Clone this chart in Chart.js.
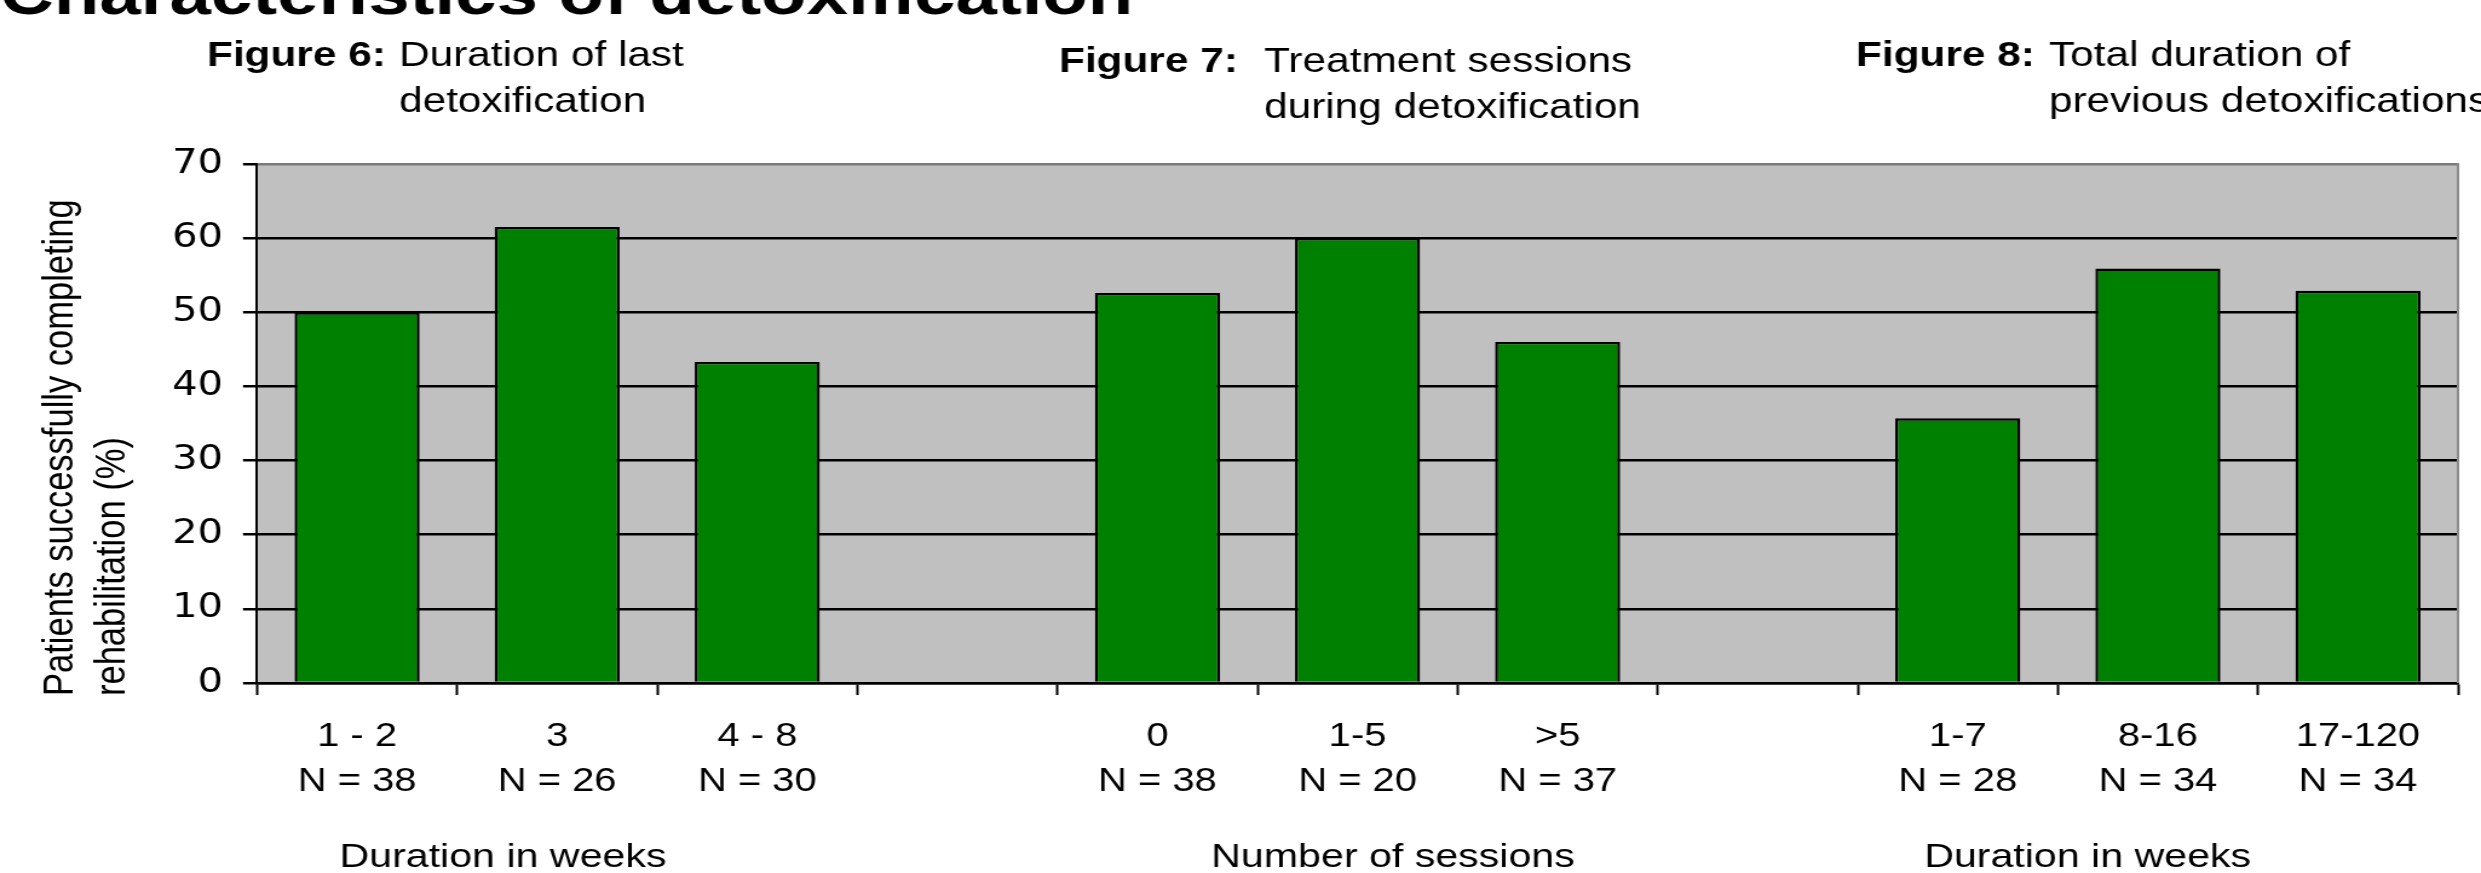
<!DOCTYPE html>
<html>
<head>
<meta charset="utf-8">
<script src="https://cdn.jsdelivr.net/npm/chart.js@4/dist/chart.umd.min.js"></script>
<style>
  html, body { margin: 0; padding: 0; background: #ffffff; overflow: hidden; }
  /* the slide artwork is laid out narrow and widened horizontally */
  #stage { width: 2050px; height: 873px; position: relative; transform: scaleX(1.21024); transform-origin: 0 0; }
</style>
</head>
<body>
<div id="stage"><canvas id="chart"></canvas></div>
<script>
// Figure 6: duration of last detoxification (weeks)
const fig6Categories = ['1 - 2', '3', '4 - 8'];
const fig6N = [38, 26, 30];
const fig6Values = [50.0, 61.5, 43.3];

// Figure 7: treatment sessions during detoxification
const fig7Categories = ['0', '1-5', '>5'];
const fig7N = [38, 20, 37];
const fig7Values = [52.6, 60.0, 46.0];

// Figure 8: total duration of previous detoxifications (weeks)
const fig8Categories = ['1-7', '8-16', '17-120'];
const fig8N = [28, 34, 34];
const fig8Values = [35.7, 55.9, 52.9];

const yTickValues = [0, 10, 20, 30, 40, 50, 60, 70];
const groupTitles = ['Duration in weeks', 'Number of sessions', 'Duration in weeks'];

// One shared category axis; an empty slot separates the three figures
const groups = [
  [fig6Categories, fig6N, fig6Values],
  [fig7Categories, fig7N, fig7Values],
  [fig8Categories, fig8N, fig8Values]
];
const labels = [];
const values = [];
groups.forEach(([cats, ns, vals], g) => {
  if (g > 0) { labels.push(''); values.push(null); }
  cats.forEach((c, i) => { labels.push([c, 'N = ' + ns[i]]); values.push(vals[i]); });
});

const SANS = '"Liberation Sans", Arial, Helvetica, sans-serif';

function say(ctx, str, x, y, font, align) {
  ctx.font = font;
  ctx.textAlign = align || 'left';
  ctx.textBaseline = 'alphabetic';
  ctx.fillStyle = '#000000';
  ctx.fillText(str, x, y);
}

const decorations = {
  id: 'decorations',
  beforeDraw(chart) {
    const { ctx, chartArea: a } = chart;
    ctx.save();
    ctx.fillStyle = '#c0c0c0';
    ctx.fillRect(a.left, a.top, a.right - a.left, a.bottom - a.top);
    ctx.restore();
  },
  afterDraw(chart) {
    const { ctx, chartArea: a } = chart;
    ctx.save();
    // right frame edge of the plot
    ctx.strokeStyle = '#8a8a8a';
    ctx.lineWidth = 2;
    ctx.beginPath();
    ctx.moveTo(a.right, a.top - 1);
    ctx.lineTo(a.right, a.bottom);
    ctx.stroke();

    // page heading
    say(ctx, 'Characteristics of detoxification', 0, 14, 'bold 61.5px ' + SANS);

    // figure captions
    const bold = 'bold 35px ' + SANS;
    const reg = '35px ' + SANS;
    say(ctx, 'Figure 6:', 171, 66, bold);
    say(ctx, 'Duration of last', 329.7, 66, reg);
    say(ctx, 'detoxification', 329.7, 112, reg);

    say(ctx, 'Figure 7:', 875, 72, bold);
    say(ctx, 'Treatment sessions', 1044.5, 72, reg);
    say(ctx, 'during detoxification', 1044.5, 118, reg);

    say(ctx, 'Figure 8:', 1533.6, 66, bold);
    say(ctx, 'Total duration of', 1693, 66, reg);
    say(ctx, 'previous detoxifications', 1693, 112, reg);

    // vertical axis title, two lines reading upwards
    ctx.save();
    ctx.translate(59.5, 696);
    ctx.rotate(-Math.PI / 2);
    say(ctx, 'Patients successfully completing', 0, 0, '34.5px ' + SANS);
    say(ctx, 'rehabilitation (%)', 0, 43.8, '34.5px ' + SANS);
    ctx.restore();

    // one axis title under each figure
    const titleX = [415.6, 1151, 1725];
    groupTitles.forEach((t, i) => say(ctx, t, titleX[i], 867, '34px ' + SANS, 'center'));
    ctx.restore();
  }
};

new Chart(document.getElementById('chart'), {
  type: 'bar',
  data: {
    labels: labels,
    datasets: [{
      data: values,
      backgroundColor: '#008000',
      borderColor: '#000000',
      borderWidth: 2.4,
      barPercentage: 0.625,
      categoryPercentage: 1.0
    }]
  },
  options: {
    responsive: true,
    maintainAspectRatio: false,
    animation: false,
    layout: { padding: { top: 164, right: 19, bottom: 0, left: 0 } },
    plugins: { legend: { display: false }, tooltip: { enabled: false } },
    scales: {
      x: {
        offset: true,
        grid: {
          display: true, drawOnChartArea: false, drawTicks: true, offset: true,
          tickLength: 12, tickColor: '#000000', tickWidth: 2, color: '#000000'
        },
        border: { display: true, color: '#000000', width: 2.5 },
        ticks: {
          color: '#000000', autoSkip: false, maxRotation: 0, padding: 19,
          font: { family: SANS, size: 33, lineHeight: 1.364 }
        },
        afterFit(scale) { scale.height = 190; }
      },
      y: {
        min: 0, max: 70,
        afterBuildTicks(scale) { scale.ticks = yTickValues.map(v => ({ value: v })); },
        grid: {
          color: c => (c.tick && c.tick.value === 70) ? '#7a7a7a' : '#000000',
          lineWidth: 2.5, tickLength: 11.6, tickColor: '#000000', tickWidth: 2.5
        },
        border: { display: true, color: '#000000', width: 2 },
        ticks: {
          color: '#000000', padding: 16.5,
          font: { family: '"DejaVu Sans", sans-serif', size: 33 }
        },
        afterFit(scale) { scale.width = 212.4; }
      }
    }
  },
  plugins: [decorations]
});
</script>
</body>
</html>
